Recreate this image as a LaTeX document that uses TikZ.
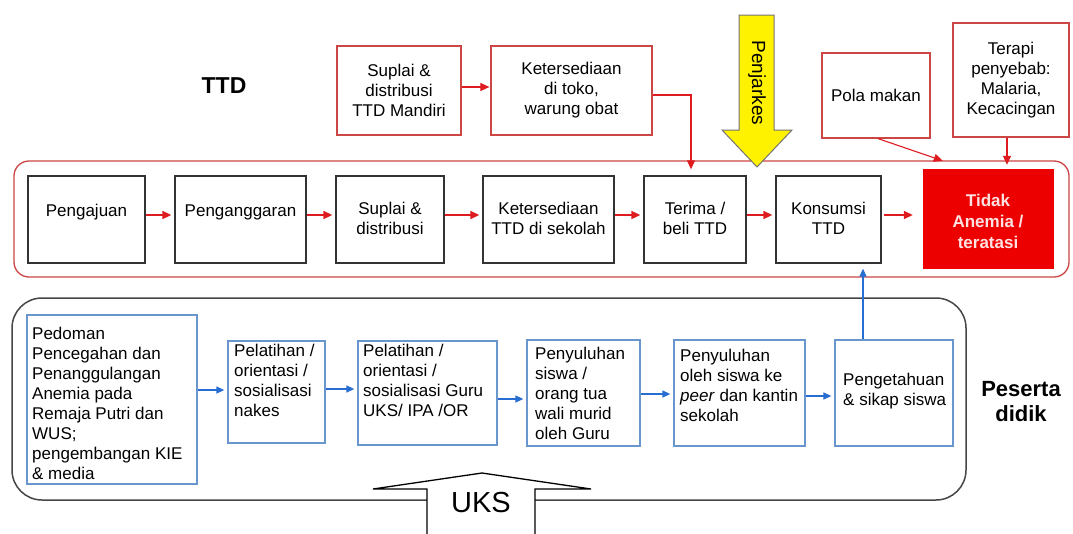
\documentclass[tikz,border=0pt]{standalone}
\usepackage{fontspec}
\setmainfont{Liberation Sans}
\usetikzlibrary{arrows.meta,calc,fit}
\definecolor{boxred}{RGB}{205,70,70}
\definecolor{arrred}{RGB}{222,28,32}
\definecolor{fillred}{RGB}{236,0,0}
\definecolor{boxblue}{RGB}{105,150,205}
\definecolor{arrblue}{RGB}{40,110,210}
\definecolor{framegray}{RGB}{70,70,70}
\definecolor{paletext}{RGB}{255,225,225}

\begin{document}
\begin{tikzpicture}[x=1pt,y=-1pt,
  txt/.style={font=\fontsize{17}{20}\selectfont, inner sep=0pt, align=center},
  ltxt/.style={font=\fontsize{17}{20}\selectfont, inner sep=0pt, align=left, anchor=north west},
  redbox/.style={draw=boxred, line width=1.2pt, inner sep=0pt},
  blackbox/.style={draw=black!80, line width=1.3pt, inner sep=0pt},
  bluebox/.style={draw=boxblue, line width=1.3pt, inner sep=0pt},
  redarr/.style={draw=arrred, line width=1.6pt, -{Triangle[length=9pt,width=8pt]}},
  thinred/.style={draw=arrred, line width=1.1pt, -{Triangle[length=9pt,width=8pt]}},
  bluearr/.style={draw=arrblue, line width=1.3pt, -{Triangle[length=8pt,width=7pt]}},
]
\clip (0,0) rectangle (1073,533);
\fill[white] (0,0) rectangle (1073,533);

% ---- upper band: TTD supply chain ----
\node[font=\bfseries\fontsize{23}{26}\selectfont] (ttd) at (224,86) {TTD};

\node[redbox, fit={(337,46) (461,135)}] (mandiri) {};
\node[txt] (mandiriT) at (mandiri) {Suplai \&\\distribusi\\TTD Mandiri};
\node[redbox, fit={(491,46) (652,135)}] (toko) {};
\node[txt] (tokoT) at (toko) {Ketersediaan\\di toko,\\warung obat};
\node[redbox, fit={(822,53) (930,138)}] (pola) {};
\node[txt] (polaT) at (pola) {Pola makan};
\node[redbox, fit={(953,23) (1069,137)}] (terapi) {};
\node[txt] (terapiT) at (terapi.center) {Terapi\\penyebab:\\Malaria,\\Kecacingan};

\draw[draw=boxred, line width=1.3pt, rounded corners=15pt] (14,161) rectangle (1069,277);

\node[blackbox, fit={(28,176) (145,263)}] (peng) {};
\node[blackbox, fit={(175,176) (306,263)}] (angg) {};
\node[blackbox, fit={(336,176) (444,263)}] (supl) {};
\node[blackbox, fit={(483,176) (614,263)}] (ket) {};
\node[blackbox, fit={(644,176) (746,263)}] (terima) {};
\node[blackbox, fit={(776,176) (881,263)}] (kons) {};
\node[fill=fillred, draw=fillred, inner sep=0pt, fit={(923,169) (1053,268)}] (tidak) {};

\node[txt] (pengT) at (peng.center |- 0,212) {Pengajuan};
\node[txt] (anggT) at (angg.center |- 0,212) {Penganggaran};
\node[txt] (suplT) at (supl.center |- 0,218) {Suplai \&\\distribusi};
\node[txt] (ketT) at (ket.center |- 0,218) {Ketersediaan\\TTD di sekolah};
\node[txt] (terimaT) at (terima.center |- 0,218) {Terima /\\beli TTD};
\node[txt] (konsT) at (kons.center |- 0,218) {Konsumsi\\TTD};
\node[txt, font=\bfseries\fontsize{17}{21}\selectfont, text=paletext] (tidakT) at (tidak.center |- 0,221) {Tidak\\Anemia /\\teratasi};

\foreach \a/\b in {peng/angg, angg/supl, supl/ket, ket/terima, terima/kons}
  \draw[redarr, shorten >=3pt] (\a.east |- 0,215) -- (\b.west |- 0,215);
\draw[redarr, shorten <=2pt, shorten >=10pt] (kons.east |- 0,215) -- (tidak.west |- 0,215);

\draw[thinred, shorten >=1pt] (mandiri.east |- 0,87) -- (toko.west |- 0,87);
\draw[thinred, shorten >=6pt] (toko.east |- 0,95) -| (terima.north -| 691,0);
\draw[thinred] ([xshift=2pt]pola.south) -- ($(tidak.north west)+(20,-8)$);
\draw[thinred, shorten >=4pt] ([xshift=-4pt]terapi.south) -- ([xshift=-4pt]terapi.south |- tidak.north);

% Penjarkes block arrow
\draw[fill=yellow, draw=black!55, line width=1pt]
  (739,15) -- (774,15) -- (774,130) -- (792,130) -- (757,167) -- (722,130) -- (739,130) -- cycle;
\node[rotate=-90, font=\fontsize{19}{22}\selectfont, inner sep=0pt] (penjarkes) at (757,83) {Penjarkes};

% ---- lower band: students ----
\draw[draw=framegray, line width=1.5pt, rounded corners=30pt] (12,298) rectangle (966,500);

\node[bluebox, fit={(27,315) (197,484)}] (pedoman) {};
\node[bluebox, fit={(228,341) (325,443)}] (nakes) {};
\node[bluebox, fit={(358,341) (497,445)}] (guru) {};
\node[bluebox, fit={(527,340) (640,446)}] (siswa) {};
\node[bluebox, fit={(674,340) (805,446)}] (oleh) {};
\node[bluebox, fit={(835,340) (953,446)}] (tahu) {};

\node[ltxt] (pedomanT) at (32,327)
  {Pedoman\\Pencegahan dan\\Penanggulangan\\Anemia pada\\Remaja Putri dan\\WUS;\\pengembangan KIE\\\& media};
\node[ltxt] (nakesT) at (234,344) {Pelatihan /\\orientasi /\\sosialisasi\\nakes};
\node[ltxt] (guruT) at (363,344) {Pelatihan /\\orientasi /\\sosialisasi Guru\\UKS/ IPA /OR};
\node[ltxt] (siswaT) at (535,347) {Penyuluhan\\siswa /\\orang tua\\wali murid\\oleh Guru};
\node[ltxt] (olehT) at (680,349) {Penyuluhan\\oleh siswa ke\\\textit{peer} dan kantin\\sekolah};
\node[ltxt] (tahuT) at (843,373) {Pengetahuan\\\& sikap siswa};

\draw[bluearr, shorten >=3pt] (pedoman.east |- 0,390) -- (nakes.west |- 0,390);
\draw[bluearr, shorten >=3pt] (nakes.east |- 0,389) -- (guru.west |- 0,389);
\draw[bluearr, shorten >=3pt] (guru.east |- 0,399) -- (siswa.west |- 0,399);
\draw[bluearr, shorten >=3pt] (siswa.east |- 0,394) -- (oleh.west |- 0,394);
\draw[bluearr, shorten >=3pt] (oleh.east |- 0,396) -- (tahu.west |- 0,396);
\draw[bluearr, shorten >=5pt] ([xshift=-31pt]tahu.north) -- ([xshift=-31pt]tahu.north |- kons.south);

\node[font=\bfseries\fontsize{22}{25}\selectfont, align=center] (peserta) at (1021,402) {Peserta\\didik};

% UKS block arrow
\draw[fill=white, draw=black, line width=1.3pt]
  (427,545) -- (427,489) -- (373,489) -- (482,473) -- (591,489) -- (535,489) -- (535,545);
\node[font=\fontsize{29}{32}\selectfont, inner sep=0pt] (uks) at (481,503) {UKS};
\end{tikzpicture}
\end{document}
